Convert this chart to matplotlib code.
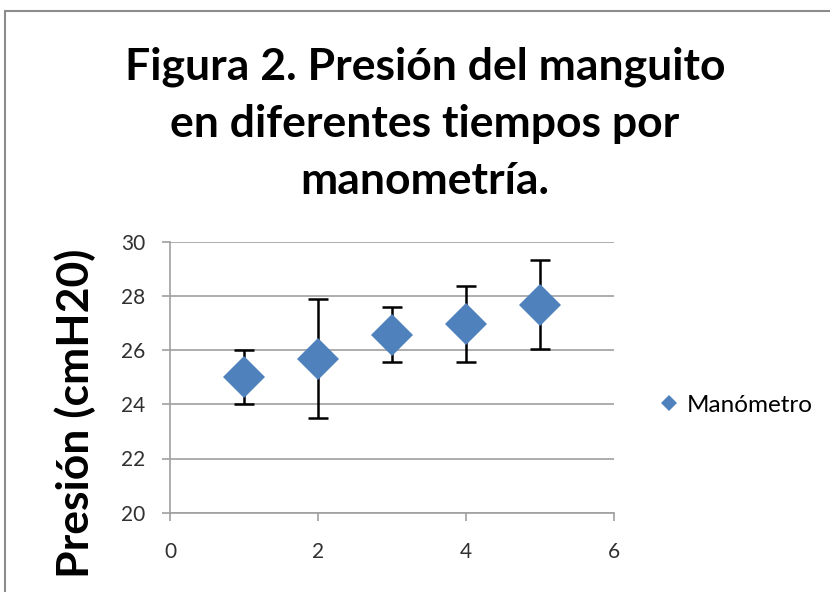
import matplotlib
matplotlib.use("Agg")
import matplotlib.pyplot as plt
from matplotlib.patches import Rectangle

# valores
tiempos = [1, 2, 3, 4, 5]
presion = [25.0, 25.67, 26.56, 26.95, 27.68]
err_sup = [26.0, 27.87, 27.59, 28.35, 29.34]
err_inf = [24.0, 23.48, 25.56, 25.56, 26.04]
x_ticks = [0, 2, 4, 6]
y_ticks = [20, 22, 24, 26, 28, 30]

TITULO = "Figura 2. Presión del manguito\nen diferentes tiempos por\nmanometría."
Y_LABEL = "Presión (cmH20)"
SERIE = "Manómetro"
AZUL = "#4F81BD"
GRIS = "#A0A0A0"

plt.rcParams['font.family'] = ['Lato', 'DejaVu Sans']

fig = plt.figure(figsize=(8.3, 5.92), dpi=100)
fig.patches.append(Rectangle((5 / 830, -0.1), 2, 1.1 - 11 / 592, transform=fig.transFigure,
                             fill=False, edgecolor="#8C8C8C", linewidth=1.5))

ax = fig.add_axes([170 / 830, 1 - 512.7 / 592, 444 / 830, 271 / 592])

yerr = [[p - lo for p, lo in zip(presion, err_inf)],
        [hi - p for p, hi in zip(presion, err_sup)]]
ax.errorbar(tiempos, presion, yerr=yerr, fmt='none', ecolor='black',
            elinewidth=1.8, capsize=7, capthick=1.8, zorder=2)
ax.plot(tiempos, presion, 'D', color=AZUL, markersize=21, markeredgewidth=0,
        label=SERIE, zorder=3)

ax.set_xlim(0, 6)
ax.set_ylim(20, 30)
ax.set_xticks(x_ticks)
ax.set_yticks(y_ticks)
ax.grid(axis='y', color=GRIS, linewidth=1.2)
ax.set_axisbelow(True)
for s in ['top', 'right']:
    ax.spines[s].set_visible(False)
for s in ['left', 'bottom']:
    ax.spines[s].set_color(GRIS)
    ax.spines[s].set_linewidth(1.2)
ax.tick_params(axis='both', colors=GRIS, labelcolor='#303030', labelsize=15,
               length=6, width=1.2)
ax.tick_params(axis='x', pad=15)
ax.tick_params(axis='y', pad=12)

fig.text(425 / 830, 1 - 124 / 592, TITULO, ha='center', va='center', fontsize=32,
         fontweight='bold', linespacing=1.52, color='black')
fig.text(75 / 830, 1 - 413 / 592, Y_LABEL, ha='center', va='center', rotation=90,
         fontsize=32, fontweight='bold', color='black')

ax.legend(loc='center left', bbox_to_anchor=(662 / 830, 1 - 405 / 592),
          bbox_transform=fig.transFigure, frameon=False, fontsize=17.5,
          markerscale=0.4, handlelength=0.6, handletextpad=0.4,
          borderpad=0, borderaxespad=0)

fig.savefig("out.png", dpi=100)
